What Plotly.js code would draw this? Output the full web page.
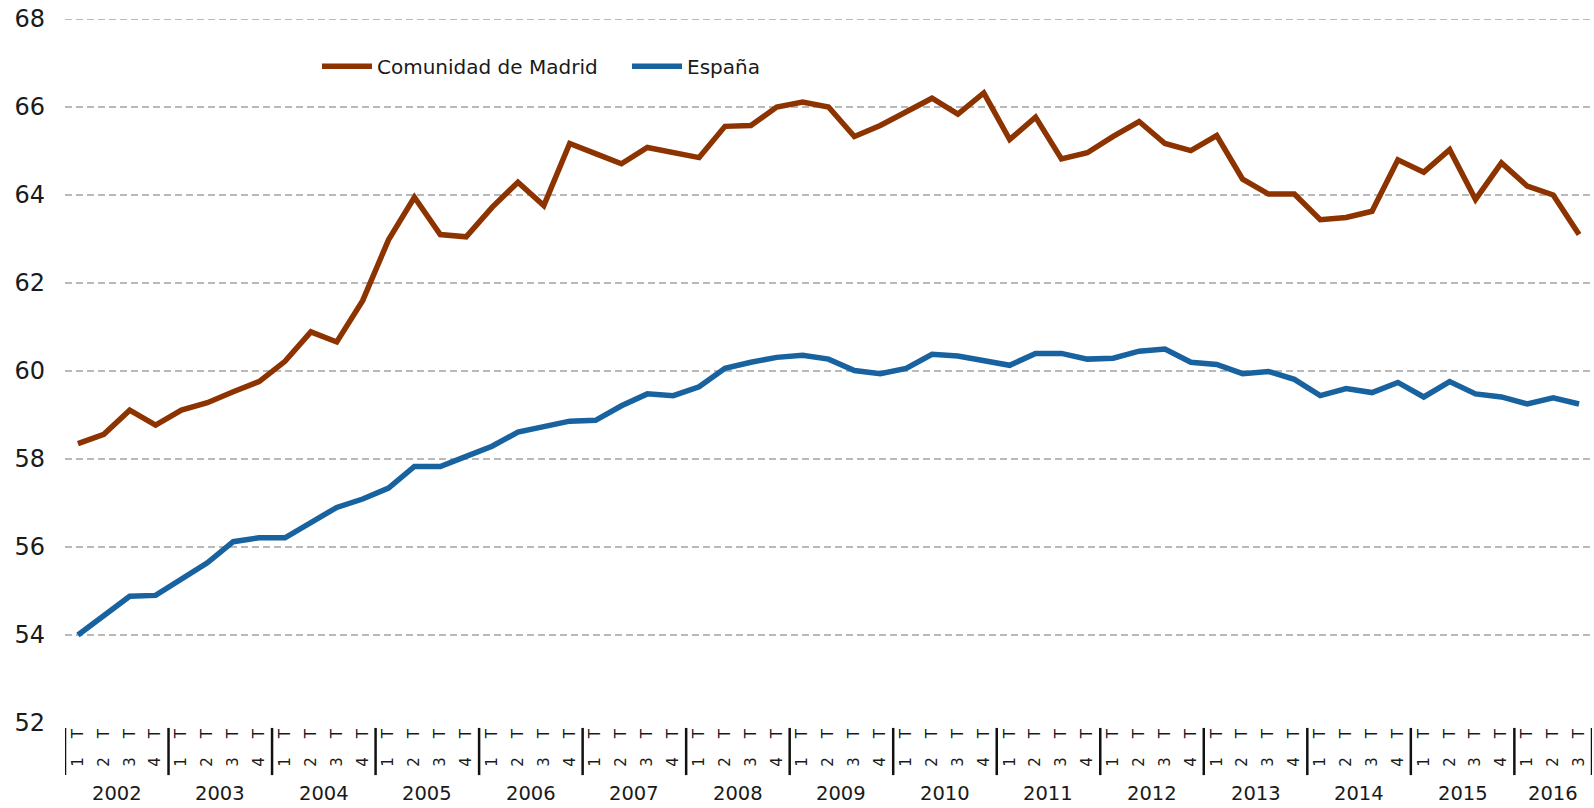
<!DOCTYPE html>
<html>
<head>
<meta charset="utf-8">
<script src="https://cdn.plot.ly/plotly-3.0.1.min.js"></script>
<style>
  html, body { margin: 0; padding: 0; background: #ffffff; }
  #chart { width: 1594px; height: 808px; }
</style>
</head>
<body>
<div id="chart"></div>
<script>
const years = ['2002','2003','2004','2005','2006','2007','2008','2009','2010','2011','2012','2013','2014','2015','2016'];
const quarters = ['1 T','2 T','3 T','4 T'];

const madrid = [
  58.35, 58.56, 59.11, 58.77,
  59.11, 59.28, 59.53, 59.76,
  60.22, 60.89, 60.66, 61.60,
  62.98, 63.95, 63.10, 63.05,
  63.72, 64.29, 63.76, 65.17,
  64.94, 64.71, 65.08, 64.96,
  64.85, 65.56, 65.58, 66.00,
  66.11, 66.00, 65.33, 65.58,
  65.88, 66.20, 65.84, 66.32,
  65.26, 65.77, 64.82, 64.96,
  65.33, 65.67, 65.17, 65.01,
  65.35, 64.36, 64.02, 64.02,
  63.44, 63.49, 63.63, 64.80,
  64.52, 65.03, 63.90, 64.73,
  64.20, 64.00, 63.10
];

const espana = [
  54.00, 54.44, 54.88, 54.90,
  55.27, 55.64, 56.12, 56.21,
  56.21, 56.54, 56.90, 57.09,
  57.34, 57.83, 57.83, 58.06,
  58.29, 58.61, 58.72, 58.86,
  58.88, 59.21, 59.48, 59.44,
  59.64, 60.06, 60.20, 60.31,
  60.36, 60.27, 60.01, 59.94,
  60.06, 60.38, 60.34, 60.22,
  60.13, 60.40, 60.40, 60.27,
  60.29, 60.45, 60.50, 60.20,
  60.15, 59.94, 59.99, 59.81,
  59.44, 59.60, 59.51, 59.74,
  59.41, 59.76, 59.48, 59.41,
  59.25, 59.39, 59.25
];

const yTicks = [52, 54, 56, 58, 60, 62, 64, 66, 68];
const gridTicks = [54, 56, 58, 60, 62, 64, 66, 68];

const seriesNames = ['Comunidad de Madrid', 'España'];
const seriesColors = ['#8c3300', '#17629f'];

// Build period categories from years x quarters
const periods = [];
const periodYear = [];
const periodQuarter = [];
for (const y of years) {
  for (const q of quarters) {
    if (periods.length < madrid.length) {
      periods.push(y + ' ' + q);
      periodYear.push(y);
      periodQuarter.push(q);
    }
  }
}

const FONT = '"DejaVu Sans", "Liberation Sans", Arial, sans-serif';
const TXT = '#1a1a1a';

const traces = [
  { x: periods, y: madrid, name: seriesNames[0], type: 'scatter', mode: 'lines',
    line: { color: seriesColors[0], width: 5.5 }, hoverinfo: 'x+y+name' },
  { x: periods, y: espana, name: seriesNames[1], type: 'scatter', mode: 'lines',
    line: { color: seriesColors[1], width: 5.5 }, hoverinfo: 'x+y+name' }
];

const shapes = [];
const annotations = [];

// horizontal dashed gridlines on the y scale
gridTicks.forEach((v) => {
  shapes.push({ type: 'line', xref: 'paper', yref: 'y', x0: 0, x1: 1, y0: v, y1: v,
    layer: 'below', line: { color: '#777777', width: 1.2, dash: '7px,4px' } });
});

// year separators and labels, positioned on the category scale
years.forEach((yr) => {
  const idx = [];
  periodYear.forEach((py, i) => { if (py === yr) idx.push(i); });
  if (!idx.length) return;
  const first = idx[0], last = idx[idx.length - 1];
  shapes.push({ type: 'line', xref: 'x', yref: 'paper', x0: first - 0.5, x1: first - 0.5,
    y0: -0.007, y1: -0.074, line: { color: '#111111', width: 2.5 } });
  annotations.push({ xref: 'x', yref: 'paper', x: (first + last) / 2, y: -0.0995,
    text: yr, showarrow: false, xanchor: 'center', yanchor: 'middle',
    font: { family: FONT, size: 19.5, color: TXT } });
});
shapes.push({ type: 'line', xref: 'x', yref: 'paper', x0: periods.length - 0.5, x1: periods.length - 0.5,
  y0: -0.007, y1: -0.074, line: { color: '#111111', width: 2.5 } });

const layout = {
  width: 1594, height: 808,
  margin: { l: 65, r: 2, t: 19, b: 85 },
  paper_bgcolor: '#ffffff', plot_bgcolor: '#ffffff',
  showlegend: true,
  legend: {
    orientation: 'h', x: (317 - 65) / 1527, y: 0.933, xanchor: 'left', yanchor: 'middle',
    itemwidth: 50, entrywidth: 245,
    font: { family: FONT, size: 20, color: TXT }, bgcolor: 'rgba(0,0,0,0)'
  },
  xaxis: {
    type: 'category', range: [-0.5, periods.length - 0.5],
    tickmode: 'array', tickvals: periods,
    ticktext: periodQuarter.map(q => q.replace(' ', '\u00a0\u00a0\u00a0\u00a0')),
    tickangle: -90, ticks: '', showgrid: false, zeroline: false, showline: false,
    tickfont: { family: FONT, size: 15, color: TXT }, ticklabelstandoff: 2,
    fixedrange: true
  },
  yaxis: {
    range: [52, 68], tickmode: 'array', tickvals: yTicks, ticktext: yTicks.map(String),
    showgrid: false, zeroline: false, showline: false, ticks: '',
    tickfont: { family: FONT, size: 24, color: TXT }, ticklabelstandoff: 19,
    fixedrange: true
  },
  shapes: shapes,
  annotations: annotations
};

Plotly.newPlot('chart', traces, layout, { displayModeBar: false, staticPlot: true });
</script>
</body>
</html>
